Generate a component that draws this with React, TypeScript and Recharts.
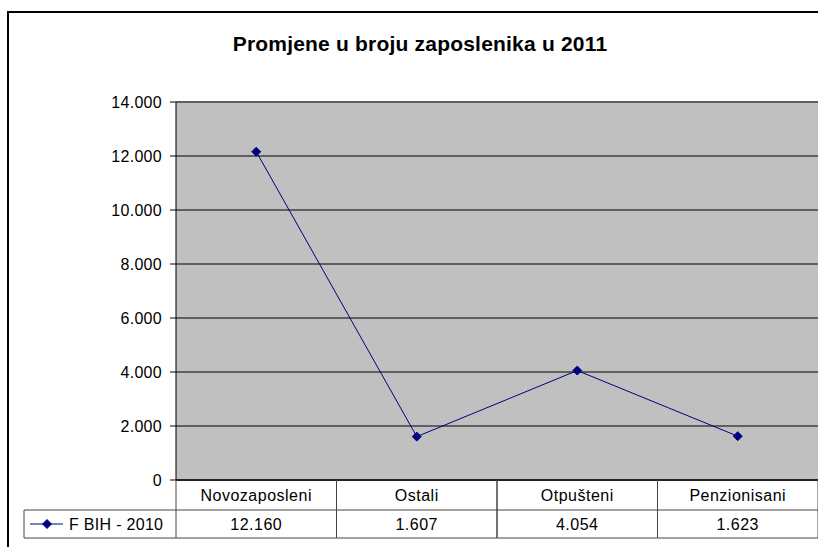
import React from 'react';
import { LineChart, Line, XAxis, YAxis, CartesianGrid } from 'recharts';

const title = 'Promjene u broju zaposlenika u 2011';
const seriesName = 'F BIH - 2010';
const categories = ['Novozaposleni', 'Ostali', 'Otpušteni', 'Penzionisani'];
const values = [12160, 1607, 4054, 1623];
const yTicks = [0, 2000, 4000, 6000, 8000, 10000, 12000, 14000];

const data = categories.map((c, i) => ({ name: c, value: values[i] }));

const W = 818;
const H = 547;
const TOP = 102;
const XAXIS_H = 67;
const YAXIS_W = 176;
const PLOT_BOTTOM = H - XAXIS_H;
const BAND = (W - YAXIS_W) / categories.length;
const FONT = 'Arial, "Liberation Sans", sans-serif';
const NAVY = '#000080';
const TABLE_LINE = '#444';
const FS = 16;

const fmt = (v: number) => String(v).replace(/\B(?=(\d{3})+(?!\d))/g, '.');

const Diamond = (props: any) => {
  const { cx, cy } = props;
  if (cx == null || cy == null) return null;
  const r = 4.5;
  return (
    <path
      d={`M${cx},${cy - r} L${cx + r},${cy} L${cx},${cy + r} L${cx - r},${cy} Z`}
      fill={NAVY}
      stroke={NAVY}
    />
  );
};

const TableTick = (props: any) => {
  const { x, payload } = props;
  const idx = payload.index;
  const left = x - BAND / 2;
  const right = x + BAND / 2;
  const r1 = PLOT_BOTTOM + 30;
  const r2 = PLOT_BOTTOM + 58;
  return (
    <g>
      <text x={x} y={PLOT_BOTTOM + 21} textAnchor="middle" fontSize={FS} letterSpacing={0.5} fontFamily={FONT} fill="#000">
        {payload.value}
      </text>
      <text x={x} y={r1 + 20} textAnchor="middle" fontSize={FS} letterSpacing={0.5} fontFamily={FONT} fill="#000">
        {fmt(values[idx])}
      </text>
      <line x1={right} y1={PLOT_BOTTOM} x2={right} y2={r2} stroke={TABLE_LINE} strokeWidth={1} />
      <line x1={left} y1={PLOT_BOTTOM} x2={left} y2={r2} stroke={TABLE_LINE} strokeWidth={1} />
      <line x1={left} y1={r1} x2={right} y2={r1} stroke={TABLE_LINE} strokeWidth={1} />
      <line x1={left} y1={r2} x2={right} y2={r2} stroke={TABLE_LINE} strokeWidth={1} />
      {idx === 0 && (
        <g>
          <line x1={24} y1={r1} x2={left} y2={r1} stroke={TABLE_LINE} strokeWidth={1} />
          <line x1={24} y1={r2} x2={left} y2={r2} stroke={TABLE_LINE} strokeWidth={1} />
          <line x1={24} y1={r1} x2={24} y2={r2} stroke={TABLE_LINE} strokeWidth={1} />
          <line x1={30} y1={r1 + 14} x2={63} y2={r1 + 14} stroke={NAVY} strokeWidth={1} />
          <Diamond cx={47} cy={r1 + 14} />
          <text x={69} y={r1 + 20} fontSize={FS} letterSpacing={0.3} fontFamily={FONT} fill="#000">
            {seriesName}
          </text>
        </g>
      )}
    </g>
  );
};

export default function App() {
  return (
    <div
      style={{
        position: 'fixed',
        left: 0,
        top: 0,
        width: W,
        height: H,
        overflow: 'hidden',
        background: '#fff',
      }}
    >
      <div
        style={{
          position: 'absolute',
          left: 7,
          top: 11,
          width: 1000,
          height: 1000,
          border: '2px solid #000',
        }}
      />
      <div
        style={{
          position: 'absolute',
          left: 0,
          top: 31,
          width: 840,
          textAlign: 'center',
          fontFamily: FONT,
          fontWeight: 'bold',
          fontSize: 21,
          letterSpacing: 0.2,
          lineHeight: '26px',
          color: '#000',
        }}
      >
        {title}
      </div>
      <div style={{ position: 'absolute', left: 0, top: 0 }}>
        <LineChart width={W} height={H} data={data} margin={{ top: TOP, right: 0, bottom: 0, left: 0 }}>
          <CartesianGrid vertical={false} fill="#c0c0c0" stroke="#606060" strokeWidth={2} />
          <XAxis
            dataKey="name"
            scale="band"
            height={XAXIS_H}
            axisLine={{ stroke: '#222', strokeWidth: 2 }}
            tickLine={false}
            tick={<TableTick />}
            interval={0}
          />
          <YAxis
            width={YAXIS_W}
            domain={[0, 14000]}
            ticks={yTicks}
            tickFormatter={fmt}
            axisLine={{ stroke: '#000', strokeWidth: 1 }}
            tickLine={{ stroke: '#000' }}
            tickSize={6}
            tickMargin={8}
            tick={{ fill: '#000', fontSize: FS, fontFamily: FONT, letterSpacing: 0.3 }}
            interval={0}
          />
          <Line
            dataKey="value"
            name={seriesName}
            stroke={NAVY}
            strokeWidth={1}
            dot={<Diamond />}
            activeDot={false}
            isAnimationActive={false}
          />
        </LineChart>
      </div>
    </div>
  );
}
